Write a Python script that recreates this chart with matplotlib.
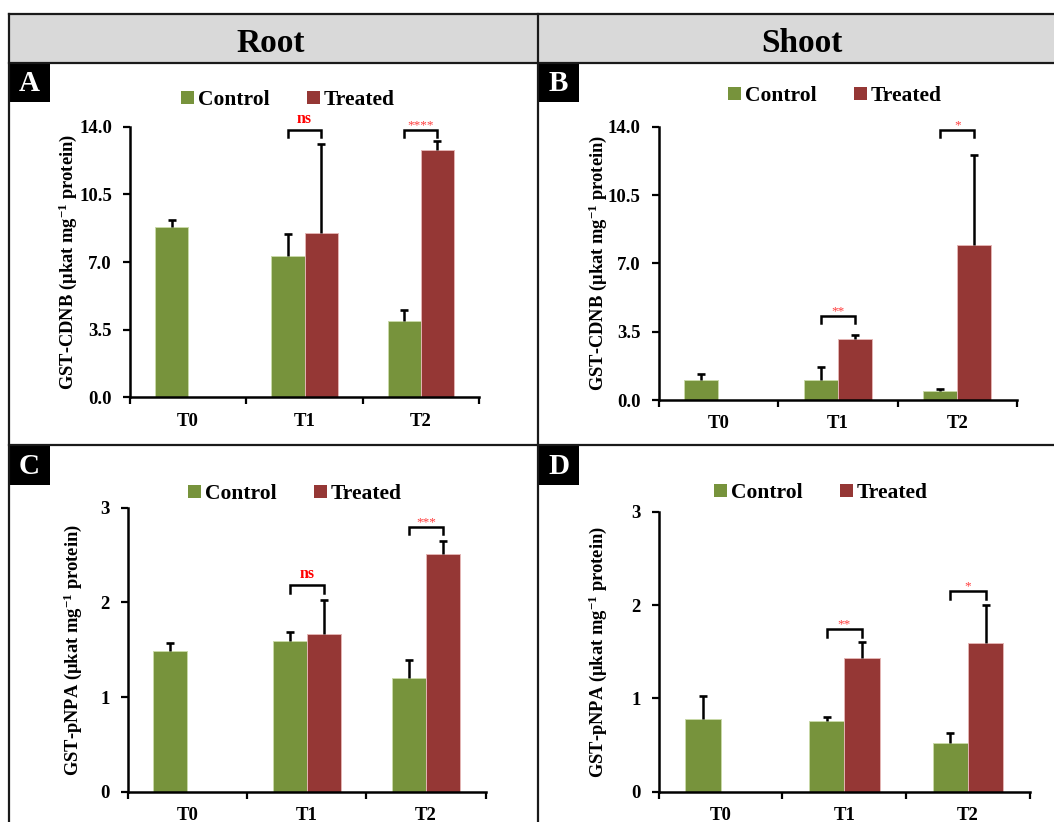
import numpy as np
import matplotlib
matplotlib.use("Agg")
import matplotlib.pyplot as plt
from matplotlib.patches import Patch, Rectangle

plt.rcParams["font.family"] = ["Liberation Serif", "DejaVu Serif"]
plt.rcParams["font.weight"] = "bold"
plt.rcParams["mathtext.fontset"] = "custom"
plt.rcParams["mathtext.rm"] = "Liberation Serif:bold"
plt.rcParams["mathtext.bf"] = "Liberation Serif:bold"
plt.rcParams["mathtext.it"] = "Liberation Serif:bold:italic"

W, H = 1054, 822

# ---- data (means and upper SD) ------------------------------------------
categories = ["T0", "T1", "T2"]

cdnb_root_control = [8.80, 7.33, 3.94]
cdnb_root_control_err = [0.36, 1.12, 0.57]
cdnb_root_treated = [np.nan, 8.49, 12.79]
cdnb_root_treated_err = [np.nan, 4.60, 0.45]
cdnb_root_sig = ["", "ns", "****"]
cdnb_root_bracket = [np.nan, 13.83, 13.83]

cdnb_shoot_control = [1.02, 1.02, 0.48]
cdnb_shoot_control_err = [0.31, 0.69, 0.08]
cdnb_shoot_treated = [np.nan, 3.12, 7.94]
cdnb_shoot_treated_err = [np.nan, 0.23, 4.60]
cdnb_shoot_sig = ["", "**", "*"]
cdnb_shoot_bracket = [np.nan, 4.30, 13.83]

pnpa_root_control = [1.49, 1.59, 1.20]
pnpa_root_control_err = [0.08, 0.10, 0.19]
pnpa_root_treated = [np.nan, 1.67, 2.51]
pnpa_root_treated_err = [np.nan, 0.35, 0.14]
pnpa_root_sig = ["", "ns", "***"]
pnpa_root_bracket = [np.nan, 2.18, 2.80]

pnpa_shoot_control = [0.78, 0.76, 0.52]
pnpa_shoot_control_err = [0.25, 0.04, 0.11]
pnpa_shoot_treated = [np.nan, 1.43, 1.59]
pnpa_shoot_treated_err = [np.nan, 0.17, 0.41]
pnpa_shoot_sig = ["", "**", "*"]
pnpa_shoot_bracket = [np.nan, 1.74, 2.15]

cdnb_ticks = [0.0, 3.5, 7.0, 10.5, 14.0]
pnpa_ticks = [0, 1, 2, 3]

GREEN = "#77933C"
RED = "#953735"
GREEN_EDGE = "#c9d9a8"
RED_EDGE = "#e3b4b3"
BAR_W = 0.285


def px_box(left, right, top, bottom):
    return [left / W, 1 - bottom / H, (right - left) / W, (bottom - top) / H]


def upper_err(ax, x, y, e):
    """Excel-style error bar: upper half only, capped."""
    top = y + e
    ax.vlines(x, y, top, color="black", lw=1.8, zorder=3)
    ax.plot(x, top, ls="none", marker="_", ms=6, mew=1.9, color="black", zorder=3)


fig = plt.figure(figsize=(W / 100, H / 100), dpi=100)

# frame: header band, dividers, panel letters
frame = fig.add_axes([0, 0, 1, 1], zorder=0)
frame.set_xlim(0, W)
frame.set_ylim(H, 0)
frame.axis("off")
frame.add_patch(Rectangle((9, 14), W - 9, 49, facecolor="#D9D9D9", edgecolor="none"))
lw_frame = 1.6
frame.plot([9, W], [14, 14], color="#1a1a1a", lw=lw_frame)
frame.plot([9, W], [63, 63], color="#1a1a1a", lw=lw_frame)
frame.plot([9, W], [444.5, 444.5], color="#1a1a1a", lw=lw_frame)
frame.plot([9.3, 9.3], [14, H], color="#1a1a1a", lw=lw_frame)
frame.plot([537.5, 537.5], [14, H], color="#1a1a1a", lw=lw_frame)
frame.text(271, 52, "Root", ha="center", va="baseline", fontsize=24, fontweight="bold")
frame.text(802, 52, "Shoot", ha="center", va="baseline", fontsize=24, fontweight="bold")
for letter, (x0, y0) in zip("ABCD", [(9, 63), (538.5, 63), (9, 445.5), (538.5, 445.5)]):
    frame.add_patch(Rectangle((x0, y0), 40.5, 39.5, facecolor="black", edgecolor="none"))
    frame.text(x0 + 20, y0 + 20.5, letter, color="white", ha="center", va="center",
               fontsize=21, fontweight="bold")

panels = [
    dict(box=(130, 479, 126.7, 397.3), ymax=14.0, ticks=cdnb_ticks, fmt="{:.1f}",
         ctrl=cdnb_root_control, ctrl_err=cdnb_root_control_err,
         trt=cdnb_root_treated, trt_err=cdnb_root_treated_err,
         sig=cdnb_root_sig, bracket=cdnb_root_bracket,
         ylabel="GST-CDNB (µkat mg$^{-1}$ protein)", ylab_x=68, leg=(288, 100)),
    dict(box=(658.7, 1017, 126.7, 400), ymax=14.0, ticks=cdnb_ticks, fmt="{:.1f}",
         ctrl=cdnb_shoot_control, ctrl_err=cdnb_shoot_control_err,
         trt=cdnb_shoot_treated, trt_err=cdnb_shoot_treated_err,
         sig=cdnb_shoot_sig, bracket=cdnb_shoot_bracket,
         ylabel="GST-CDNB (µkat mg$^{-1}$ protein)", ylab_x=598, leg=(835, 96)),
    dict(box=(127.7, 485.7, 507.7, 791.7), ymax=3, ticks=pnpa_ticks, fmt="{:d}",
         ctrl=pnpa_root_control, ctrl_err=pnpa_root_control_err,
         trt=pnpa_root_treated, trt_err=pnpa_root_treated_err,
         sig=pnpa_root_sig, bracket=pnpa_root_bracket,
         ylabel="GST-pNPA (µkat mg$^{-1}$ protein)", ylab_x=73, leg=(295, 494)),
    dict(box=(658.7, 1030, 511.7, 791.7), ymax=3, ticks=pnpa_ticks, fmt="{:d}",
         ctrl=pnpa_shoot_control, ctrl_err=pnpa_shoot_control_err,
         trt=pnpa_shoot_treated, trt_err=pnpa_shoot_treated_err,
         sig=pnpa_shoot_sig, bracket=pnpa_shoot_bracket,
         ylabel="GST-pNPA (µkat mg$^{-1}$ protein)", ylab_x=598, leg=(821, 493)),
]

xc = np.arange(len(categories)) + 0.5

for p in panels:
    ax = fig.add_axes(px_box(*p["box"]), zorder=2)
    ax.patch.set_alpha(0)

    ctrl = np.array(p["ctrl"], dtype=float)
    trt = np.array(p["trt"], dtype=float)
    ce = np.array(p["ctrl_err"], dtype=float)
    te = np.array(p["trt_err"], dtype=float)
    has = ~np.isnan(trt)

    ax.bar(xc - BAR_W / 2, ctrl, width=BAR_W, color=GREEN, edgecolor=GREEN_EDGE,
           linewidth=0.7, zorder=2)
    ax.bar(xc[has] + BAR_W / 2, trt[has], width=BAR_W, color=RED, edgecolor=RED_EDGE,
           linewidth=0.7, zorder=2)
    upper_err(ax, xc - BAR_W / 2, ctrl, ce)
    upper_err(ax, xc[has] + BAR_W / 2, trt[has], te[has])

    # significance brackets between control and treated
    drop = 0.027 * p["ymax"]
    for i, (lab, yb) in enumerate(zip(p["sig"], p["bracket"])):
        if not lab:
            continue
        x0, x1 = xc[i] - BAR_W / 2, xc[i] + BAR_W / 2
        ax.plot([x0, x0, x1, x1], [yb - drop, yb, yb, yb - drop], color="black",
                lw=1.8, solid_joinstyle="miter", clip_on=False, zorder=3)
        if lab == "ns":
            ax.annotate(lab, (xc[i], yb), xytext=(0, 2.5), textcoords="offset points",
                        ha="center", va="bottom", color="#FF0000", fontsize=11.5,
                        fontweight="bold", annotation_clip=False)
        else:
            ax.annotate(lab, (xc[i], yb), xytext=(0, -1), textcoords="offset points",
                        ha="center", va="bottom", color="#FF3B3B", fontsize=9.5,
                        fontweight="normal", annotation_clip=False)

    ax.set_xlim(0, len(categories))
    ax.set_ylim(0, p["ymax"])
    ax.set_xticks(np.arange(len(categories) + 1))
    ax.set_xticklabels([])
    ax.set_xticks(xc, minor=True)
    ax.set_xticklabels(categories, minor=True, fontsize=13.5, fontweight="bold")
    ax.tick_params(axis="x", which="major", direction="out", length=5, width=1.6)
    ax.tick_params(axis="x", which="minor", length=0, pad=11)
    ax.set_yticks(p["ticks"])
    ax.set_yticklabels([p["fmt"].format(t) for t in p["ticks"]], fontsize=13.5,
                       fontweight="bold")
    ax.tick_params(axis="y", direction="out", length=5, width=1.6, pad=8)
    for sp in ("top", "right"):
        ax.spines[sp].set_visible(False)
    for sp in ("left", "bottom"):
        ax.spines[sp].set_linewidth(1.8)

    _, _, top, bottom = p["box"]
    fig.text(p["ylab_x"] / W, 1 - (top + bottom) / 2 / H, p["ylabel"], rotation=90,
             ha="center", va="center", fontsize=13.3, fontweight="bold")

    handles = [Patch(facecolor=GREEN, edgecolor="none"), Patch(facecolor=RED, edgecolor="none")]
    ax.legend(handles, ["Control", "Treated"], loc="center",
              bbox_to_anchor=(p["leg"][0] / W, 1 - p["leg"][1] / H),
              bbox_transform=fig.transFigure, ncol=2, frameon=False,
              prop=dict(family="Liberation Serif", weight="bold", size=15.5),
              handlelength=0.6, handleheight=0.6, handletextpad=0.2,
              columnspacing=1.7, borderpad=0, borderaxespad=0)

fig.savefig("out.png", dpi=100)
